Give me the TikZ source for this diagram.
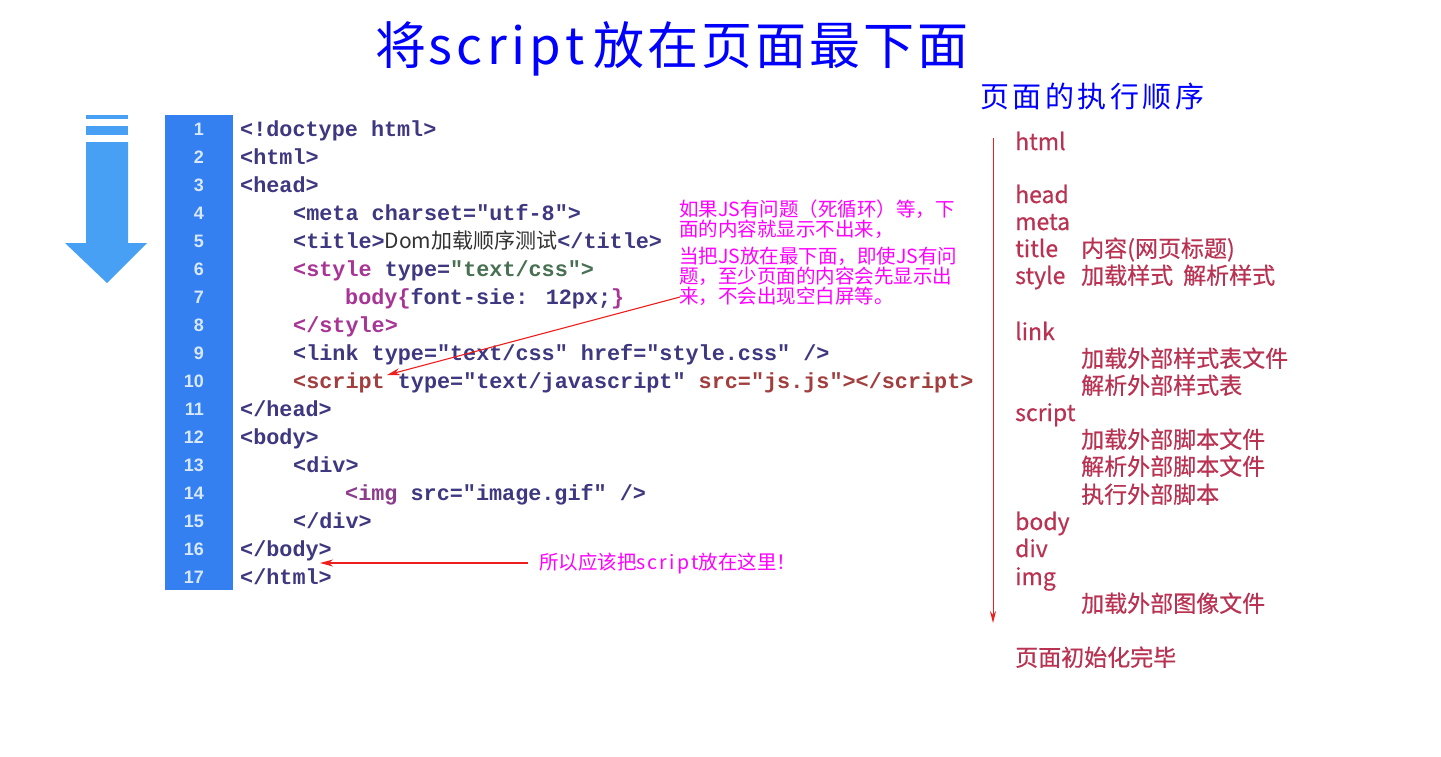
\documentclass[tikz,border=0pt]{standalone}
\usepackage{fontspec}
\newfontfamily\cjk{Noto Sans CJK SC}
\newfontfamily\cjkfb{Noto Sans CJK SC}[FakeBold=0.5]
\newfontfamily\mono{Liberation Mono}[Ligatures=TeXOff]
\newfontfamily\lsans{Liberation Sans}
\usetikzlibrary{arrows.meta}
\definecolor{navy}{RGB}{62,56,128}
\definecolor{tagmag}{RGB}{168,52,150}
\definecolor{strgreen}{RGB}{72,112,82}
\definecolor{scriptred}{RGB}{162,62,62}
\definecolor{imgpur}{RGB}{140,60,140}
\definecolor{domgray}{RGB}{50,50,50}
\definecolor{listred}{RGB}{185,50,82}
\definecolor{notemag}{RGB}{255,0,255}
\definecolor{titleblue}{RGB}{0,0,255}
\definecolor{gutter}{RGB}{52,128,240}
\definecolor{lnc}{RGB}{215,232,255}
\definecolor{arrowblue}{RGB}{72,160,245}
\definecolor{linkred}{RGB}{238,30,30}
\tikzset{
  code/.style={anchor=base west, inner sep=0, text=navy, font=\mono\bfseries\fontsize{21.8}{22}\selectfont},
  lnum/.style={anchor=base east, inner sep=0, text=lnc, font=\lsans\bfseries\fontsize{18}{18}\selectfont},
  note/.style={anchor=north west, inner sep=0, align=left, text=notemag, font=\cjk\fontsize{19.5}{20}\selectfont},
  item/.style={anchor=base west, inner sep=0, text=listred, font=\cjkfb\fontsize{23}{23}\selectfont},
  pointer/.style={draw=linkred, line width=1.1pt, -{Stealth[length=13pt,width=7pt]}},
}
\begin{document}
\begin{tikzpicture}[x=1pt,y=-1pt]
\useasboundingbox[fill=white] (0,0) rectangle (1441,756);

% title
\node[anchor=base west, inner sep=0, text=titleblue, font=\cjk\fontsize{51}{51}\selectfont] (title) at (375,64)
  {将\kern2pt\makebox[157pt][s]{s\hfill c\hfill r\hfill i\hfill p\hfill t}\kern8pt 放\kern3pt 在\kern3pt 页\kern3pt 面\kern3pt 最\kern3pt 下\kern3pt 面};

% blue arrow
\fill[arrowblue] (86,115) rectangle (128,119);
\fill[arrowblue] (86,126) rectangle (128,135);
\fill[arrowblue] (86,142) -- (128,142) -- (128,243) -- (147,243) -- (107,283) -- (65,243) -- (86,243) -- cycle;

% gutter
\fill[gutter] (165,115) rectangle (233,590);
\foreach \i in {1,...,17} {
  \node[lnum] (ln\i) at (204,{129+(\i-1)*28+6.5}) {\i};
}

% code
\node[code] (c1) at (240,136) {<!doctype html>};
\node[code] (c2) at (240,164) {<html>};
\node[code] (c3) at (240,192) {<head>};
\node[code] (c4) at (293,220) {<meta charset="utf-8">};
\node[code] (c5) at (293,248) {<title>{\cjk\mdseries\fontsize{21}{21}\selectfont\color{domgray}Dom加载顺序测试}</title>};
\node[code] (c6) at (293,276) {\textcolor{tagmag}{<style} type=\textcolor{strgreen}{"text/css">}};
\node[code] (c7) at (345,304) {\textcolor{tagmag}{body\{}font-sie: 12px;\textcolor{tagmag}{\}}};
\node[code] (c8) at (293,332) {\textcolor{tagmag}{</style>}};
\node[code] (c9) at (293,360) {<link type="text/css" href="style.css" />};
\node[code] (c10) at (293,388) {\textcolor{scriptred}{<script} type="text/javascript" \textcolor{scriptred}{src="js.js"></script>}};
\node[code] (c11) at (240,416) {</head>};
\node[code] (c12) at (240,444) {<body>};
\node[code] (c13) at (293,472) {<div>};
\node[code] (c14) at (345,500) {\textcolor{imgpur}{<img} src="image.gif" />};
\node[code] (c15) at (293,528) {</div>};
\node[code] (c16) at (240,556) {</body>};
\node[code] (c17) at (240,584) {</html>};

% notes
\node[note] (n1) at (679,200) {如果JS有问题（死循环）等，下\\面的内容就显示不出来，};
\node[note] (n2) at (679,247) {当把JS放在最下面，即使JS有问\\题，至少页面的内容会先显示出\\来，不会出现空白屏等。};
\node[anchor=west, inner sep=0, text=notemag, font=\cjk\fontsize{19.5}{20}\selectfont] (n3) at (539,563)
  {所以应该把\makebox[62pt][s]{s\hfill c\hfill r\hfill i\hfill p\hfill t}放在这里！};

\coordinate (a1s) at (680,297);
\coordinate (a1e) at (387,375);
\draw[pointer] (a1s) -- (a1e);
\coordinate (a2s) at (528,563);
\coordinate (a2e) at (320,563);
\draw[pointer] (a2s) -- (a2e);

% right side
\node[anchor=base west, inner sep=0, text=titleblue, font=\cjk\fontsize{29}{29}\selectfont] (head) at (980,107)
  {页\kern3.5pt 面\kern3.5pt 的\kern3.5pt 执\kern3.5pt 行\kern3.5pt 顺\kern3.5pt 序};
\coordinate (vs) at (993,138);
\coordinate (ve) at (993,623);
\draw[draw=linkred, line width=1pt, -{Stealth[length=12pt,width=6pt]}] (vs) -- (ve);

\node[item] (i1) at (1015,150) {html};
\node[item] (i2) at (1015,203) {head};
\node[item] (i3) at (1015,230) {meta};
\node[item] (i4) at (1015,257) {title};
\node[item] (i4b) at (1081,257) {内容(网页标题)};
\node[item] (i5) at (1015,284) {style};
\node[item] (i5b) at (1081,284) {加载样式\hspace{10pt}解析样式};
\node[item] (i6) at (1015,340) {link};
\node[item] (i7) at (1081,367) {加载外部样式表文件};
\node[item] (i8) at (1081,394) {解析外部样式表};
\node[item] (i9) at (1015,421) {script};
\node[item] (i10) at (1081,448) {加载外部脚本文件};
\node[item] (i11) at (1081,475) {解析外部脚本文件};
\node[item] (i12) at (1081,503) {执行外部脚本};
\node[item] (i13) at (1015,530) {body};
\node[item] (i14) at (1015,557) {div};
\node[item] (i15) at (1015,585) {img};
\node[item] (i16) at (1081,612) {加载外部图像文件};
\node[item] (i17) at (1015,666) {页面初始化完毕};
\end{tikzpicture}
\end{document}
